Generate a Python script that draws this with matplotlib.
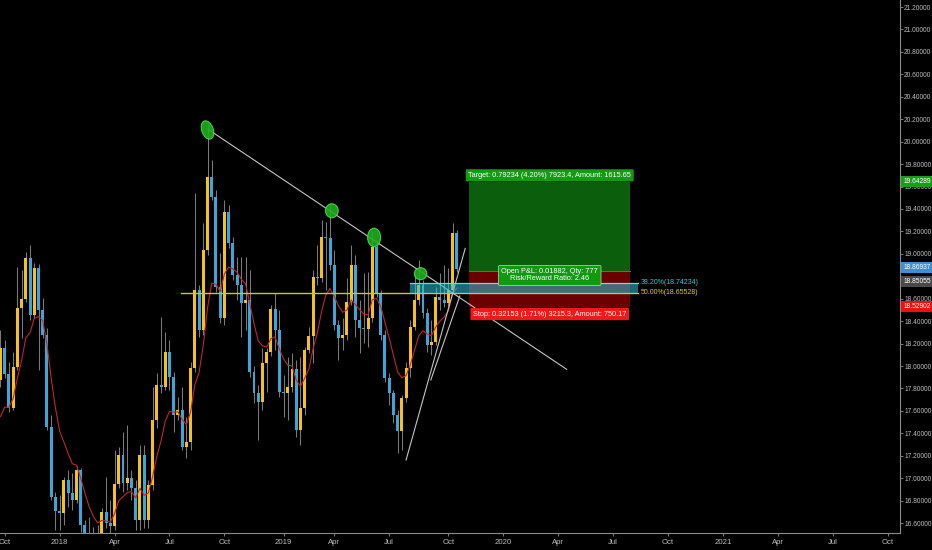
import matplotlib
matplotlib.use("Agg")
import matplotlib.pyplot as plt
import matplotlib.dates as mdates
from matplotlib.patches import Rectangle, Ellipse
from matplotlib.transforms import ScaledTranslation
from matplotlib import font_manager
import numpy as np
import pandas as pd

_names = {f.name for f in font_manager.fontManager.ttflist}
FONT = 'Liberation Sans Narrow' if 'Liberation Sans Narrow' in _names else 'Liberation Sans'
NARROW = FONT == 'Liberation Sans Narrow'
plt.rcParams['font.family'] = [FONT, 'DejaVu Sans']

# ---------------- data ----------------
dates = pd.date_range('2017-09-25', periods=109, freq='7D')
first_open = 17.876
closes = [18.161, 17.929, 17.626, 17.992, 18.518, 18.598, 18.963, 18.454, 18.874, 18.499,
          18.277, 17.457, 16.833, 16.708, 16.690, 16.984, 16.868, 16.806, 17.073, 16.583,
          16.405, 16.316, 16.360, 16.405, 16.699, 16.601, 16.575, 16.948, 17.207, 16.957,
          17.002, 16.913, 16.628, 17.207, 16.628, 16.940, 17.519, 17.831, 17.814, 18.125,
          17.903, 17.563, 17.608, 17.279, 17.323, 17.983, 18.678, 18.321, 19.034, 19.685,
          19.507, 18.704, 18.428, 19.373, 19.097, 18.811, 18.722, 18.562, 18.589, 17.947,
          17.759, 17.679, 18.027, 18.125, 18.508, 18.321, 17.768, 17.759, 17.814, 17.974,
          17.430, 17.626, 18.143, 18.268, 18.794, 18.785, 19.150, 19.141, 18.900, 18.365,
          18.250, 18.277, 18.571, 18.900, 18.410, 18.339, 18.330, 18.428, 19.061, 18.651,
          18.277, 17.894, 17.759, 17.563, 17.421, 17.715, 17.983, 18.348, 18.589, 18.722,
          18.473, 18.187, 18.214, 18.615, 18.589, 18.562, 18.678, 19.186, 18.869]
highs = [18.321, 18.232, 18.036, 18.125, 18.883, 18.856, 19.016, 19.078, 18.918, 18.909,
         18.607, 18.339, 17.563, 16.877, 16.850, 17.011, 17.073, 17.046, 17.109, 17.091,
         16.628, 16.655, 16.566, 16.583, 16.735, 17.011, 16.806, 17.252, 17.279, 17.412,
         17.474, 17.073, 16.984, 17.296, 17.296, 16.984, 17.814, 17.938, 18.437, 18.303,
         18.232, 17.947, 17.724, 17.814, 17.545, 18.036, 19.542, 18.722, 19.275, 20.157,
         19.836, 19.569, 19.007, 19.480, 19.436, 19.150, 18.972, 18.972, 18.972, 18.856,
         18.001, 17.831, 18.161, 18.161, 18.544, 18.651, 18.499, 17.920, 18.081, 18.116,
         18.054, 18.081, 18.170, 18.348, 18.856, 19.078, 19.302, 19.284, 19.436, 19.034,
         18.410, 18.428, 18.785, 19.078, 18.990, 18.589, 18.829, 18.838, 19.213, 19.123,
         18.678, 18.321, 17.938, 17.786, 17.608, 17.741, 18.036, 18.410, 18.829, 18.945,
         18.767, 18.517, 18.410, 18.705, 18.829, 18.900, 18.874, 19.275, 19.213]
lows = [17.814, 17.894, 17.590, 17.608, 17.965, 18.250, 18.571, 18.410, 18.428, 17.965,
        18.250, 17.430, 16.806, 16.539, 16.539, 16.583, 16.744, 16.717, 16.779, 16.521,
        16.316, 16.227, 16.227, 16.271, 16.360, 16.557, 16.512, 16.539, 16.913, 16.877,
        16.895, 16.806, 16.539, 16.539, 16.557, 16.557, 16.895, 17.448, 17.759, 17.786,
        17.786, 17.412, 17.519, 17.252, 17.181, 17.252, 17.947, 18.259, 18.277, 18.990,
        19.480, 18.660, 18.383, 18.365, 19.052, 18.767, 18.589, 18.259, 18.321, 17.903,
        17.670, 17.341, 17.608, 17.768, 18.090, 18.143, 17.724, 17.546, 17.519, 17.768,
        17.367, 17.296, 17.563, 18.116, 18.027, 18.722, 18.749, 18.678, 18.856, 18.321,
        18.054, 18.143, 18.232, 18.544, 18.259, 18.116, 18.205, 18.170, 18.392, 18.615,
        18.232, 17.858, 17.652, 17.492, 17.225, 17.252, 17.679, 17.903, 18.321, 18.544,
        18.428, 18.125, 18.098, 18.187, 18.499, 18.526, 18.535, 18.660, 18.838]
opens = [first_open] + closes[:-1]
ma_start = 17.55      # moving-average value at the first bar
ma_span = 8

x_tick_dates = ['2017-10-02', '2018-01-01', '2018-04-02', '2018-07-02', '2018-10-01',
                '2019-01-07', '2019-04-01', '2019-07-01', '2019-10-07', '2020-01-06',
                '2020-04-06', '2020-07-06', '2020-10-05', '2021-01-04', '2021-04-05',
                '2021-07-05', '2021-10-04']
x_tick_labels = ['Oct', '2018', 'Apr', 'Jul', 'Oct', '2019', 'Apr', 'Jul', 'Oct', '2020',
                 'Apr', 'Jul', 'Oct', '2021', 'Apr', 'Jul', 'Oct']
y_ticks = [16.6, 16.8, 17.0, 17.2, 17.4, 17.6, 17.8, 18.0, 18.2, 18.4, 18.6, 18.8,
           19.0, 19.2, 19.4, 19.6, 19.8, 20.0, 20.2, 20.4, 20.6, 20.8, 21.0, 21.2]
hidden_tick = 18.8    # fully covered by the price labels in the reference

# drawings
down_line_dates = ['2018-09-04', '2020-04-20']
down_line_prices = [20.110, 17.971]
up_a_dates = ['2019-07-29', '2019-11-04']
up_a_prices = [17.163, 19.049]
up_b_dates = ['2019-09-08', '2019-10-26']
up_b_prices = [17.876, 18.624]
ellipse_dates = ['2018-09-03', '2019-03-28', '2019-06-06', '2019-08-22']
ellipse_prices = [20.104, 19.384, 19.146, 18.823]
hline_start, hline_end = '2018-07-21', '2020-08-16'
fib_start, fib_end = '2019-08-04', '2020-08-16'
fib_382, fib_500 = 18.74234, 18.65528
pos_start, pos_end = '2019-11-11', '2020-08-03'
entry, target, stop = 18.85055, 19.64289, 18.52902
last_price = 18.86937

# ---------------- figure ----------------
W, H = 932, 550
fig = plt.figure(figsize=(W / 100, H / 100), dpi=100, facecolor='black')
ax = fig.add_axes([0, 17 / H, 900 / W, 533 / H])
ax.set_facecolor('black')

xd = mdates.date2num(dates.to_pydatetime())
o = np.array(opens); c = np.array(closes); hi = np.array(highs); lo = np.array(lows)
up = c >= o
YEL, BLU = '#f4c21b', '#3ca5d9'
cols = np.where(up, YEL, BLU)

ax.vlines(xd, lo, hi, color='#7a7a7a', lw=0.75, zorder=2)
bot = np.minimum(o, c)
hgt = np.maximum(np.abs(c - o), 0.012)
ax.bar(xd, hgt, bottom=bot, width=4.9, color=cols, edgecolor='none', zorder=3)

# moving average (EMA)
alpha = 2.0 / (ma_span + 1)
ema = [ma_start]
for v in closes[1:]:
    ema.append(ema[-1] + alpha * (v - ema[-1]))
ax.plot(xd, ema, color='#c0262d', lw=0.8, zorder=4)

D = lambda s: mdates.date2num(pd.Timestamp(s).to_pydatetime())

# horizontal yellow line
ax.plot([D(hline_start), D(hline_end)], [fib_500, fib_500], color='#d9c41c', lw=1.0, zorder=5)

# long position tool
ps, pe = D(pos_start), D(pos_end)
ax.add_patch(Rectangle((ps, entry), pe - ps, target - entry, fc='#0b5e0b', ec='none', zorder=1))
ax.add_patch(Rectangle((ps, stop), pe - ps, entry - stop, fc='#6a0000', ec='none', zorder=1))
ax.plot([ps, pe], [entry, entry], color='#6a6a6a', lw=0.7, zorder=1.5)

# fib box
fs, fe = D(fib_start), D(fib_end)
ax.add_patch(Rectangle((fs, fib_500), fe - fs, fib_382 - fib_500, fc='#26c6da', alpha=0.55,
                       ec='none', zorder=6))
ax.plot([fs, fe], [fib_382, fib_382], color='#5fe0ee', lw=0.9, zorder=6)
fib_fs = 5.9 if NARROW else 5.0
ax.text(fe + 5, fib_382, '38.20%(18.74234)', color='#3cc8dc', fontsize=fib_fs, va='center', ha='left', zorder=7)
ax.text(fe + 5, fib_500, '50.00%(18.65528)', color='#e0cc1c', fontsize=fib_fs, va='center', ha='left', zorder=7)

# trend lines
ax.plot([D(d) for d in down_line_dates], down_line_prices, color='#c4c4c4', lw=0.8, zorder=5)
ax.plot([D(d) for d in up_a_dates], up_a_prices, color='#c4c4c4', lw=0.8, zorder=5)
ax.plot([D(d) for d in up_b_dates], up_b_prices, color='#c4c4c4', lw=0.8, zorder=5)

# ellipses (size in inches, in display space)
ell_sizes = [(0.115, 0.19, 20), (0.127, 0.14, 0), (0.13, 0.185, 0), (0.125, 0.12, 0)]
for d, p, (w, h, a) in zip(ellipse_dates, ellipse_prices, ell_sizes):
    tr = fig.dpi_scale_trans + ScaledTranslation(D(d), p, ax.transData)
    ax.add_patch(Ellipse((0, 0), w, h, angle=a, transform=tr, fc='#1fae1f', alpha=0.9,
                         ec='#4fd84f', lw=0.8, zorder=8))

# position labels
mid = (ps + pe) / 2
fs_lab = 6.2 if NARROW else 5.3
ax.annotate('Target: 0.79234 (4.20%) 7923.4, Amount: 1615.65', xy=(mid, target),
            xytext=(0, 4.6), textcoords='offset points', ha='center', va='center',
            color='white', fontsize=fs_lab, zorder=10,
            bbox=dict(boxstyle='round,pad=0.35,rounding_size=0.15', fc='#129c12', ec='none'))
ax.annotate('Stop: 0.32153 (1.71%) 3215.3, Amount: 750.17', xy=(mid, stop),
            xytext=(0, -5.3), textcoords='offset points', ha='center', va='center',
            color='white', fontsize=fs_lab, zorder=10,
            bbox=dict(boxstyle='round,pad=0.35,rounding_size=0.15', fc='#f01818', ec='none'))
ax.annotate('Open P&L: 0.01882, Qty: 777\nRisk/Reward Ratio: 2.46', xy=(mid, entry),
            xytext=(0, -3.5), textcoords='offset points', ha='center', va='center',
            color='white', fontsize=fs_lab, zorder=10, linespacing=1.0,
            bbox=dict(boxstyle='round,pad=0.4,rounding_size=0.15', fc='#109a10', ec='#9ad49a', lw=0.6))

# axes style
ax.set_xlim(D('2017-10-02') - 7.79, D('2017-10-02') + 1483.3)
ax.set_ylim(16.512, 21.2624)
for s in ['top', 'left']:
    ax.spines[s].set_visible(False)
for s in ['right', 'bottom']:
    ax.spines[s].set_color('#8c8c8c')
    ax.spines[s].set_linewidth(0.8)
tick_fs = 5.6 if NARROW else 4.8
ax.yaxis.tick_right()
ax.set_yticks(y_ticks)
ax.set_yticklabels(['' if abs(v - hidden_tick) < 1e-9 else '%.5f' % v for v in y_ticks])
ax.set_xticks([D(d) for d in x_tick_dates])
ax.set_xticklabels(x_tick_labels)
ax.tick_params(axis='y', colors='#8c8c8c', labelcolor='#bdbdbd', labelsize=tick_fs, length=2, width=0.6, pad=1)
ax.tick_params(axis='x', colors='#8c8c8c', labelcolor='#bdbdbd', labelsize=5.6, length=2.5, width=0.6, pad=1.5)

# right-side price labels
ytr = ax.get_yaxis_transform()
def plabel(p, txt, fc, dy=0.0):
    ax.annotate(txt, xy=(1.0, p), xycoords=ytr, xytext=(2.2, dy), textcoords='offset points',
                ha='left', va='center', color='white', fontsize=tick_fs, zorder=12,
                annotation_clip=False,
                bbox=dict(boxstyle='square,pad=0.3', fc=fc, ec='none'))
plabel(target, '19.64289', '#17a017')
plabel(last_price, '18.86937', '#3f8fd2', dy=0.8)
plabel(entry, '18.85055', '#4a4a4a', dy=-7.6)
plabel(stop, '18.52902', '#f01010')

fig.savefig('out.png', dpi=100, facecolor='black')
